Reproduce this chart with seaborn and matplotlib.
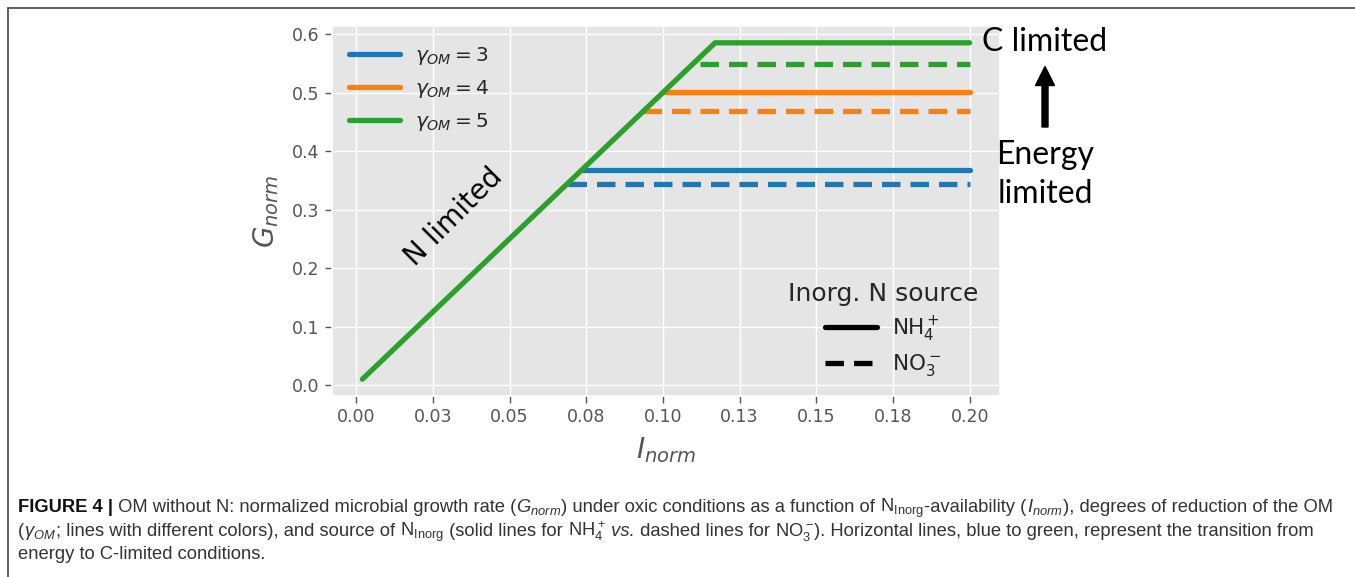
import numpy as np
import pandas as pd
import matplotlib
matplotlib.use("Agg")
import matplotlib.pyplot as plt
import seaborn as sns
from matplotlib.lines import Line2D
from matplotlib.patches import FancyArrow
from matplotlib.transforms import IdentityTransform
from matplotlib import font_manager as fm

# ---------------- data ----------------
gammas = [3, 4, 5]
gamma_colors = ["#1f77b4", "#ff7f0e", "#2ca02c"]
sources = ["NH4", "NO3"]

# N-limited diagonal (drawn as part of the gamma=5 NH4 series)
diag_I = [0.002, 0.117]
diag_G = [0.010, 0.585]

plateau_end_I = 0.2
nh4_start_I = [0.0735, 0.100, 0.117]
nh4_G = [0.367, 0.501, 0.585]
no3_start_I = [0.069, 0.0936, 0.112]
no3_G = [0.344, 0.468, 0.549]

x_ticks = [0.0, 0.025, 0.05, 0.075, 0.10, 0.125, 0.15, 0.175, 0.20]
x_ticklabels = ["0.00", "0.03", "0.05", "0.08", "0.10", "0.13", "0.15", "0.18", "0.20"]
y_ticks = [0.0, 0.1, 0.2, 0.3, 0.4, 0.5, 0.6]
y_ticklabels = ["0.0", "0.1", "0.2", "0.3", "0.4", "0.5", "0.6"]

legend_gamma_labels = [r"$\gamma_{OM} = 3$", r"$\gamma_{OM} = 4$", r"$\gamma_{OM} = 5$"]
legend_src_labels = [r"$\mathrm{NH}_4^+$", r"$\mathrm{NO}_3^-$"]

# ---------------- build long-form table ----------------
rows = []
for k, g in enumerate(gammas):
    if g == 5:
        xs = [diag_I[0], diag_I[1], plateau_end_I]
        ys = [diag_G[0], diag_G[1], nh4_G[k]]
    else:
        xs = [nh4_start_I[k], plateau_end_I]
        ys = [nh4_G[k], nh4_G[k]]
    for x, y in zip(xs, ys):
        rows.append(dict(I=x, G=y, gamma=g, source="NH4"))
    for x, y in zip([no3_start_I[k], plateau_end_I], [no3_G[k], no3_G[k]]):
        rows.append(dict(I=x, G=y, gamma=g, source="NO3"))
df = pd.DataFrame(rows)

# ---------------- style ----------------
sns.set_theme(style="darkgrid", rc={
    "axes.facecolor": "#E5E5E5",
    "axes.edgecolor": "white",
    "grid.color": "white",
    "grid.linewidth": 1.0,
    "xtick.bottom": True, "ytick.left": True,
    "xtick.direction": "out", "ytick.direction": "out",
    "xtick.color": "#555555", "ytick.color": "#555555",
    "xtick.major.size": 5, "ytick.major.size": 5,
    "xtick.major.width": 1.0, "ytick.major.width": 1.0,
    "axes.labelcolor": "#555555",
})
plt.rcParams["font.family"] = ["DejaVu Sans"]

W, H = 1355, 577
fig = plt.figure(figsize=(W / 100, H / 100), dpi=100)
ax = fig.add_axes([332 / W, 1 - 396 / H, (1000 - 332) / W, (396 - 26) / H])

LW = 3.8
sns.lineplot(data=df, x="I", y="G", hue="gamma", style="source",
             palette=dict(zip(gammas, gamma_colors)),
             dashes={"NH4": "", "NO3": (3.5, 1.9)},
             estimator=None, sort=False, lw=LW, legend=False, ax=ax)

ax.set_xticks(x_ticks)
ax.set_xticklabels(x_ticklabels, fontsize=12.5)
ax.set_yticks(y_ticks)
ax.set_yticklabels(y_ticklabels, fontsize=12.5)
ax.tick_params(axis="both", pad=4)
ax.set_xlabel(r"$I_{norm}$", fontsize=20, color="#555555", labelpad=6)
ax.set_ylabel(r"$G_{norm}$", fontsize=20, color="#555555", labelpad=8)

# legend 1: gamma colours
h1 = [Line2D([], [], color=c, lw=LW) for c in gamma_colors]
leg1 = ax.legend(h1, legend_gamma_labels, loc="center",
                 bbox_to_anchor=(419 / W, 1 - 89 / H), bbox_transform=fig.transFigure,
                 frameon=False, fontsize=14.5, handlelength=2.55, handletextpad=0.75,
                 labelspacing=0.54)
ax.add_artist(leg1)

# legend 2: N source
h2 = [Line2D([], [], color="black", lw=LW),
      Line2D([], [], color="black", lw=LW, dashes=(3.5, 1.9))]
leg2 = ax.legend(h2, legend_src_labels, loc="center",
                 bbox_to_anchor=(883 / W, 1 - 330 / H), bbox_transform=fig.transFigure,
                 frameon=False, fontsize=15.5, title="Inorg. N source",
                 title_fontsize=18, handlelength=2.4, handletextpad=0.7,
                 labelspacing=0.4)

# annotations
ax.text(0.0318, 0.288, "N limited", rotation=45, fontsize=20, color="black",
        ha="center", va="center", rotation_mode="anchor")

ann_font = "Lato"
fig.text(1045 / W, 1 - 42 / H, "C limited", fontsize=23, family=ann_font,
         ha="center", va="center", color="black")
fig.text(1045 / W, 1 - 155 / H, "Energy", fontsize=23, family=ann_font,
         ha="center", va="center", color="black")
fig.text(1045 / W, 1 - 194 / H, "limited", fontsize=23, family=ann_font,
         ha="center", va="center", color="black")
fig.add_artist(FancyArrow(1045, H - 127, 0, 127 - 66.5, width=6, head_width=19,
                          head_length=19, length_includes_head=True,
                          color="black", transform=IdentityTransform()))

# frame lines
fig.add_artist(Line2D([8 / W, 1.0], [1 - 8 / H, 1 - 8 / H], transform=fig.transFigure,
                      color="#444444", lw=1.2))
fig.add_artist(Line2D([8 / W, 8 / W], [1 - 8 / H, 0.0], transform=fig.transFigure,
                      color="#444444", lw=1.2))

# caption
names = {f.name for f in fm.fontManager.ttflist}
narrow = "Liberation Sans Narrow" in names
cap_family = "Liberation Sans Narrow" if narrow else "Liberation Sans"
cap_size = 15.0 if narrow else 13.2
renderer = fig.canvas.get_renderer()


def place_segments(x_px, y_px, segs):
    x = x_px
    for txt, weight, style in segs:
        color = "#111111" if weight == "bold" else "#333333"
        t = fig.text(x / W, 1 - y_px / H, txt, fontsize=cap_size, family=cap_family,
                     weight=weight, style=style, color=color, va="baseline", ha="left")
        bb = t.get_window_extent(renderer)
        x = bb.x1


N_ = "normal"
line1 = [("FIGURE 4 |", "bold", N_),
         (" OM without N: normalized microbial growth rate (", N_, N_),
         (r"$\mathregular{G_{norm}}$", N_, "italic"),
         (") under oxic conditions as a function of", N_, N_),
         (r" $\mathregular{N_{Inorg}}$", N_, N_),
         ("-availability (", N_, N_),
         (r"$\mathregular{I_{norm}}$", N_, "italic"),
         ("), degrees of reduction of the OM", N_, N_)]
line2 = [("(", N_, N_),
         (r"$\mathregular{\gamma_{OM}}$", N_, "italic"),
         ("; lines with different colors), and source of", N_, N_),
         (r" $\mathregular{N_{Inorg}}$", N_, N_),
         (" (solid lines for", N_, N_),
         (r" $\mathregular{NH_4^+}$", N_, N_),
         (" vs.", N_, "italic"),
         (" dashed lines for", N_, N_),
         (r" $\mathregular{NO_3^-}$", N_, N_),
         ("). Horizontal lines, blue to green, represent the transition from", N_, N_)]
line3 = [("energy to C-limited conditions.", N_, N_)]

place_segments(18, 512, line1)
place_segments(18, 536, line2)
place_segments(18, 559, line3)

fig.savefig("out.png", dpi=100)
